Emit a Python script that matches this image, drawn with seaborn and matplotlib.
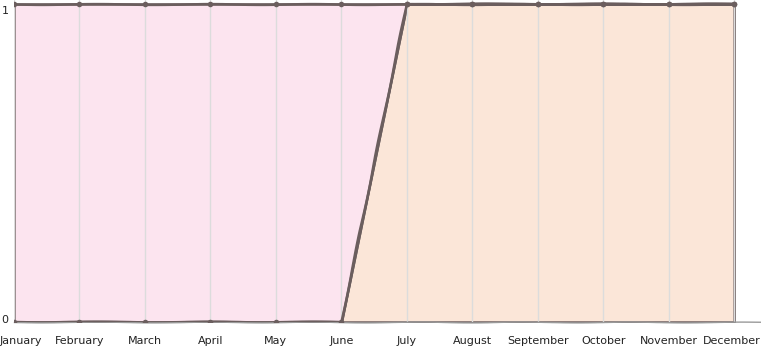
import matplotlib
matplotlib.use("Agg")
import matplotlib.pyplot as plt
import matplotlib.transforms as mtrans
import seaborn as sns
import pandas as pd
import numpy as np

months = ["January", "February", "March", "April", "May", "June",
          "July", "August", "September", "October", "November", "December"]
series_lower = [0, 0, 0, 0, 0, 0, 1, 1, 1, 1, 1, 1]   # orange, bottom of stack
series_upper = [1, 1, 1, 1, 1, 1, 0, 0, 0, 0, 0, 0]   # pink, top of stack
y_ticks = [0, 1]

sns.set_theme(style="white")
with plt.xkcd(scale=0.4, length=120, randomness=2):
    plt.rcParams['font.family'] = ['DejaVu Sans']
    plt.rcParams['path.effects'] = []
    fig = plt.figure(figsize=(7.61, 3.51), dpi=100)
    ax = fig.add_axes([0.0184, 0.0826, 0.9816, 0.9174])

    x = np.arange(len(months))
    line_col = "#6b5e5e"
    ax.stackplot(x, series_lower, series_upper,
                 colors=["#fbe6d8", "#fce4ef"],
                 edgecolor=line_col, linewidth=1.8, zorder=1)

    total = [a + b for a, b in zip(series_lower, series_upper)]
    df = pd.DataFrame({"x": list(x) * 2,
                       "y": series_lower + total,
                       "s": ["lower"] * 12 + ["total"] * 12})
    sns.lineplot(data=df, x="x", y="y", units="s", estimator=None,
                 color=line_col, linewidth=1.8, marker="o", markersize=4,
                 markeredgewidth=0, ax=ax, zorder=3, legend=False)

    for xi in x:
        gl = ax.axvline(xi, color="#dcdcdc", linewidth=1.0, zorder=2)
        gl.set_sketch_params(None)

    ax.set_xlim(0, 11.41)
    ax.set_ylim(0, 1.0125)
    ax.set_xticks(x)
    ax.set_xticklabels(months, fontsize=8, color="#222222")
    ax.set_yticks(y_ticks)
    ax.set_yticklabels([str(v) for v in y_ticks], fontsize=8, color="#222222")
    ax.tick_params(axis="both", length=0)
    ax.tick_params(axis="x", pad=10)
    ax.tick_params(axis="y", pad=4)
    ax.set_xlabel("")
    ax.set_ylabel("")
    for s in ["top", "right", "left"]:
        ax.spines[s].set_visible(False)
    ax.spines["bottom"].set_color("#9a9a9a")
    ax.spines["bottom"].set_linewidth(1.0)
    ax.grid(False)
    ylbls = ax.get_yticklabels()
    ylbls[1].set_transform(ylbls[1].get_transform() + mtrans.ScaledTranslation(0, -0.06, fig.dpi_scale_trans))
    ylbls[0].set_transform(ylbls[0].get_transform() + mtrans.ScaledTranslation(0, 0.03, fig.dpi_scale_trans))
    lbls = ax.get_xticklabels()
    lbls[0].set_horizontalalignment("left")
    lbls[0].set_transform(lbls[0].get_transform() + mtrans.ScaledTranslation(-0.14, 0, fig.dpi_scale_trans))
    lbls[-1].set_transform(lbls[-1].get_transform() + mtrans.ScaledTranslation(-0.02, 0, fig.dpi_scale_trans))
    fig.savefig("out.png", dpi=100, facecolor="white")
